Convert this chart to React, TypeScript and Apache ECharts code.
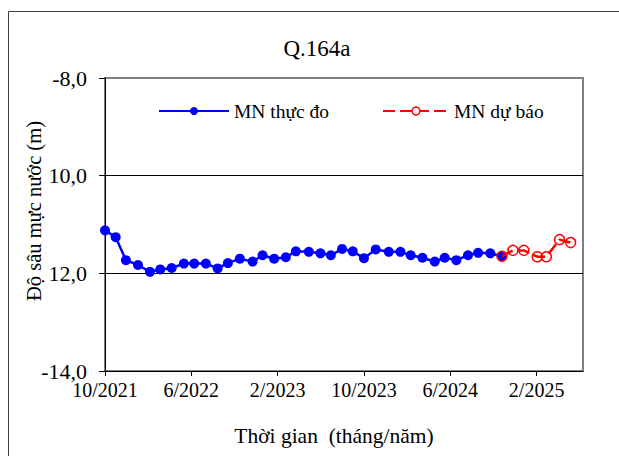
import React, { useEffect, useRef } from "react";
import * as echarts from "echarts";

// Month offsets counted from 10/2021
const observedMonths = [0, 0.99, 1.94, 3.06, 4.17, 5.12, 6.18, 7.31, 8.27, 9.35, 10.44, 11.39, 12.5, 13.68, 14.6, 15.68, 16.76, 17.69, 18.89, 19.97, 20.93, 21.97, 22.96, 24.0, 25.09, 26.3, 27.38, 28.33, 29.42, 30.56, 31.48, 32.56, 33.64, 34.58, 35.71, 36.79];
const observedValues = [-11.12, -11.26, -11.73, -11.83, -11.97, -11.92, -11.89, -11.8, -11.8, -11.8, -11.9, -11.79, -11.7, -11.76, -11.63, -11.7, -11.67, -11.55, -11.56, -11.59, -11.63, -11.5, -11.55, -11.69, -11.51, -11.56, -11.56, -11.63, -11.68, -11.76, -11.68, -11.73, -11.63, -11.58, -11.59, -11.65];
const forecastMonths = [36.79, 37.81, 38.82, 40.06, 40.9, 42.13, 43.15];
const forecastValues = [-11.65, -11.53, -11.53, -11.66, -11.66, -11.31, -11.37];

const xTickLabels = ["10/2021", "6/2022", "2/2023", "10/2023", "6/2024", "2/2025"];
const yTickValues = [-14, -12, -10, -8];
const yTickLabels = ["-14,0", "12,0", "10,0", "-8,0"];

const seriesNames = ["MN thực đo", "MN dự báo"];
const titleText = "Q.164a";
const xAxisTitle = "Thời gian  (tháng/năm)";
const yAxisTitle = "Độ sâu mực nước (m)";

const FONT = "Liberation Serif, Times New Roman, DejaVu Serif, serif";

export default function App() {
  const ref = useRef<HTMLDivElement>(null);
  useEffect(() => {
    if (!ref.current) return;
    const chart = echarts.init(ref.current, null, { renderer: "svg" });
    const obs = observedMonths.map((m, i) => [m, observedValues[i]]);
    const fc = forecastMonths.map((m, i) => [m, forecastValues[i]]);
    chart.setOption({
      animation: false,
      backgroundColor: "#fff",
      textStyle: { fontFamily: FONT },
      grid: {
        left: 105,
        right: 36,
        top: 78,
        bottom: 85,
        show: true,
        borderColor: "#808080",
        borderWidth: 2,
        backgroundColor: "transparent",
      },
      legend: [
        {
          data: [seriesNames[0]],
          left: 153,
          top: 96,
          itemWidth: 70,
          itemHeight: 10,
          itemGap: 0,
          textStyle: { fontFamily: FONT, fontSize: 19.5, color: "#000" },
        },
        {
          data: [{ name: seriesNames[1], itemStyle: { color: "#fff", borderColor: "#FF0000", borderWidth: 1.5 } }],
          left: 377,
          top: 96,
          itemWidth: 66,
          itemHeight: 10,
          itemGap: 0,
          textStyle: { fontFamily: FONT, fontSize: 19.5, color: "#000" },
        },
      ],
      xAxis: {
        type: "value",
        min: 0,
        max: 44.3,
        interval: 8,
        axisLine: { show: true, onZero: false, lineStyle: { color: "#000", width: 1 } },
        axisTick: { show: true, inside: false, length: 5, lineStyle: { color: "#000" } },
        axisLabel: {
          margin: 9,
          fontFamily: FONT,
          fontSize: 20,
          color: "#000",
          showMaxLabel: false,
          formatter: (v: number) => {
            const idx = Math.round(v / 8);
            return Math.abs(v - idx * 8) < 1e-6 ? xTickLabels[idx] ?? "" : "";
          },
        },
        splitLine: { show: false },
      },
      yAxis: {
        type: "value",
        min: -14,
        max: -8,
        interval: 2,
        axisLine: { show: true, onZero: false, lineStyle: { color: "#000", width: 1 } },
        axisTick: { show: true, inside: false, length: 6, lineStyle: { color: "#000" } },
        axisLabel: {
          margin: 18,
          fontFamily: FONT,
          fontSize: 22,
          color: "#000",
          formatter: (v: number) => {
            const i = yTickValues.indexOf(Math.round(v));
            return i >= 0 ? yTickLabels[i] : "";
          },
        },
        splitLine: {
          show: true,
          lineStyle: { color: ["rgba(0,0,0,0)", "#000", "#000", "rgba(0,0,0,0)"], width: 1 },
        },
      },
      series: [
        {
          name: seriesNames[0],
          type: "line",
          data: obs,
          symbol: "circle",
          symbolSize: 10,
          color: "#0000FF",
          lineStyle: { color: "#0000FF", width: 2.5 },
          itemStyle: { color: "#0000FF" },
          z: 3,
        },
        {
          name: seriesNames[1],
          type: "line",
          data: fc,
          symbol: "circle",
          symbolSize: 10,
          color: "#FF0000",
          lineStyle: { color: "#FF0000", width: 2.5, type: [12, 5] },
          itemStyle: { color: "rgba(255,255,255,0)", borderColor: "#FF0000", borderWidth: 1.5 },
          z: 4,
        },
      ],
      graphic: [
        { type: "line", shape: { x1: 8.5, y1: 11.5, x2: 619, y2: 11.5 }, style: { stroke: "#404040", lineWidth: 1 } },
        { type: "line", shape: { x1: 8.5, y1: 11.5, x2: 8.5, y2: 456 }, style: { stroke: "#404040", lineWidth: 1 } },
        {
          type: "text",
          x: 317,
          y: 48,
          style: { text: titleText, fontFamily: FONT, fontSize: 23, fill: "#000", align: "center", verticalAlign: "middle" },
        },
        {
          type: "text",
          x: 334,
          y: 436,
          style: { text: xAxisTitle, fontFamily: FONT, fontSize: 21.5, fill: "#000", align: "center", verticalAlign: "middle" },
        },
        {
          type: "text",
          x: 34,
          y: 211,
          rotation: Math.PI / 2,
          style: { text: yAxisTitle, fontFamily: FONT, fontSize: 20.5, fill: "#000", align: "center", verticalAlign: "middle" },
        },
      ],
    });
    return () => chart.dispose();
  }, []);
  return (
    <div style={{ position: "fixed", left: 0, top: 0, width: 619, height: 456, background: "#fff" }}>
      <div ref={ref} style={{ width: 619, height: 456 }} />
    </div>
  );
}
